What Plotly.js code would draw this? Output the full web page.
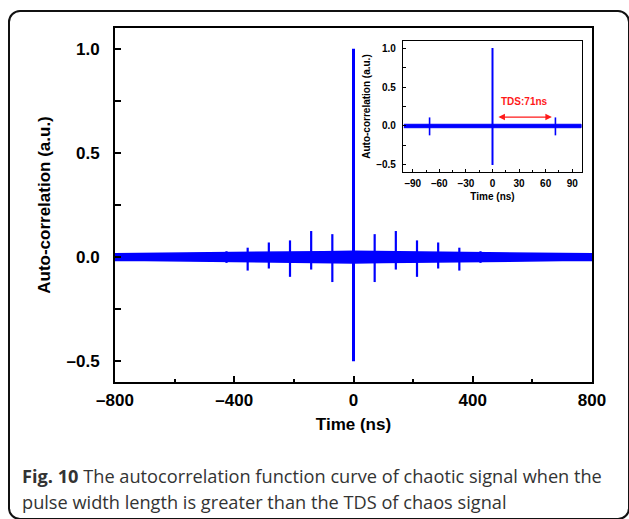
<!DOCTYPE html>
<html>
<head>
<meta charset="utf-8">
<script src="https://cdn.plot.ly/plotly-3.0.1.min.js"></script>
<style>
  html, body { margin: 0; padding: 0; background: #fff; }
  #wrap { position: relative; width: 629px; height: 519px; overflow: hidden; }
  #frame { position: absolute; left: 8px; top: 10px; width: 618px; height: 506px;
           border: 2px solid #111; border-radius: 12px; pointer-events: none; }
  #chart { position: absolute; left: 0; top: 0; width: 629px; height: 519px; }
</style>
</head>
<body>
<div id="wrap">
  <div id="chart"></div>
  <div id="frame"></div>
</div>
<script>
// ---- Main panel data ----
// noise band envelope
const mainEnvX     = [-800, -700, -600, -500, -400, -300, -200, -100, 0, 100, 200, 300, 400, 500, 600, 700, 800];
const mainEnvUpper = [0.016, 0.017, 0.018, 0.019, 0.021, 0.022, 0.024, 0.026, 0.028, 0.026, 0.024, 0.022, 0.021, 0.019, 0.018, 0.017, 0.016];
const mainEnvLower = [-0.016, -0.017, -0.018, -0.019, -0.021, -0.022, -0.024, -0.026, -0.028, -0.026, -0.024, -0.022, -0.021, -0.019, -0.018, -0.017, -0.016];
// correlation peaks at multiples of the TDS
const mainPeakX      = [-426, -355, -284, -213, -142, -71, 71, 142, 213, 284, 355, 426];
const mainPeakTop    = [0.028, 0.045, 0.070, 0.080, 0.125, 0.110, 0.110, 0.125, 0.080, 0.070, 0.045, 0.028];
const mainPeakBottom = [-0.028, -0.065, -0.055, -0.095, -0.060, -0.120, -0.120, -0.060, -0.095, -0.055, -0.065, -0.028];
const mainCenterX = [0];
const mainCenterTop = [1.0];
const mainCenterBottom = [-0.5];

// ---- Inset data ----
const insetEnvX     = [-100, -50, 0, 50, 100];
const insetEnvUpper = [0.022, 0.024, 0.026, 0.024, 0.022];
const insetEnvLower = [-0.022, -0.024, -0.026, -0.024, -0.022];
const insetPeakX      = [-71, 71];
const insetPeakTop    = [0.11, 0.11];
const insetPeakBottom = [-0.12, -0.12];
const insetCenterX = [0];
const insetCenterTop = [1.0];
const insetCenterBottom = [-0.5];
// TDS arrow
const tdsArrowStart = 5;
const tdsArrowEnd = 67;
const tdsArrowY = 0.115;
const tdsLabel = 'TDS:71ns';

// tick labels
const mainXTicks = [-800, -400, 0, 400, 800];
const mainYTicks = [-0.5, 0.0, 0.5, 1.0];
const insetXTicks = [-90, -60, -30, 0, 30, 60, 90];
const insetYTicks = [-0.5, 0.0, 0.5, 1.0];

const BLUE = '#0000ff';

function band(xs, up, lo, xa, ya, w) {
  return {
    x: xs.concat(xs.slice().reverse()),
    y: up.concat(lo.slice().reverse()),
    xaxis: xa, yaxis: ya,
    type: 'scatter', mode: 'lines', fill: 'toself',
    fillcolor: BLUE, line: {color: BLUE, width: w},
    hoverinfo: 'skip', showlegend: false
  };
}
function spikes(xs, top, bot, xa, ya, w) {
  const X = [], Y = [];
  xs.forEach((x, i) => { X.push(x, x, null); Y.push(bot[i], top[i], null); });
  return {
    x: X, y: Y, xaxis: xa, yaxis: ya,
    type: 'scatter', mode: 'lines',
    line: {color: BLUE, width: w},
    hoverinfo: 'skip', showlegend: false, connectgaps: false
  };
}

const traces = [
  band(mainEnvX, mainEnvUpper, mainEnvLower, 'x', 'y', 1.5),
  spikes(mainPeakX, mainPeakTop, mainPeakBottom, 'x', 'y', 2.2),
  spikes(mainCenterX, mainCenterTop, mainCenterBottom, 'x', 'y', 3),
  band(insetEnvX, insetEnvUpper, insetEnvLower, 'x2', 'y2', 1),
  spikes(insetPeakX, insetPeakTop, insetPeakBottom, 'x2', 'y2', 1.6),
  spikes(insetCenterX, insetCenterTop, insetCenterBottom, 'x2', 'y2', 2)
];

const boldFont = 'Liberation Sans, Arial, sans-serif';
const neg = (s) => s.replace('-', '\u2013');

const layout = {
  width: 629, height: 519,
  margin: {l: 0, r: 0, t: 0, b: 0},
  paper_bgcolor: 'rgba(0,0,0,0)', plot_bgcolor: 'rgba(0,0,0,0)',
  showlegend: false,
  xaxis: {
    domain: [115/629, 592/629], range: [-800, 800],
    tickvals: mainXTicks, ticktext: mainXTicks.map(v => '<b>' + neg(String(v)) + '</b>'),
    ticks: 'inside', ticklen: 6, tickwidth: 2, tickcolor: '#000',
    minor: {dtick: 200, ticks: 'inside', ticklen: 3, tickwidth: 2, tickcolor: '#000'},
    showline: true, linewidth: 2, linecolor: '#000', mirror: true,
    showgrid: false, zeroline: false, ticklabelstandoff: 2,
    tickfont: {family: boldFont, size: 17, color: '#000'},
    title: {text: '<b>Time (ns)</b>', font: {family: boldFont, size: 17, color: '#000'}, standoff: 9},
    fixedrange: true
  },
  yaxis: {
    domain: [1 - 382/519, 1 - 28/519], range: [-0.6, 1.1],
    tickvals: mainYTicks, ticktext: mainYTicks.map(v => '<b>' + neg(v.toFixed(1)) + '</b>'),
    ticks: 'inside', ticklen: 6, tickwidth: 2, tickcolor: '#000',
    minor: {dtick: 0.25, ticks: 'inside', ticklen: 6, tickwidth: 2, tickcolor: '#000'},
    showline: true, linewidth: 2, linecolor: '#000', mirror: true,
    showgrid: false, zeroline: false, ticklabelstandoff: 10,
    tickfont: {family: boldFont, size: 17, color: '#000'},
    title: {text: '<b>Auto-correlation (a.u.)</b>', font: {family: boldFont, size: 17, color: '#000'}, standoff: 12},
    fixedrange: true
  },
  xaxis2: {
    domain: [403/629, 582/629], range: [-101, 101], anchor: 'y2',
    tickvals: insetXTicks, ticktext: insetXTicks.map(v => '<b>' + neg(String(v)) + '</b>'),
    ticks: 'inside', ticklen: 3, tickwidth: 1, tickcolor: '#000',
    minor: {dtick: 15, ticks: 'inside', ticklen: 2, tickwidth: 1, tickcolor: '#000'},
    showline: true, linewidth: 1.2, linecolor: '#000', mirror: true,
    showgrid: false, zeroline: false, ticklabelstandoff: 2,
    tickfont: {family: boldFont, size: 10, color: '#000'},
    title: {text: '<b>Time (ns)</b>', font: {family: boldFont, size: 10, color: '#000'}, standoff: 4},
    fixedrange: true
  },
  yaxis2: {
    domain: [1 - 172/519, 1 - 41/519], range: [-0.59, 1.09], anchor: 'x2',
    tickvals: insetYTicks, ticktext: insetYTicks.map(v => '<b>' + neg(v.toFixed(1)) + '</b>'),
    ticks: 'inside', ticklen: 3, tickwidth: 1, tickcolor: '#000',
    minor: {dtick: 0.25, ticks: 'inside', ticklen: 3, tickwidth: 1, tickcolor: '#000'},
    showline: true, linewidth: 1.2, linecolor: '#000', mirror: true,
    showgrid: false, zeroline: false, ticklabelstandoff: 4,
    tickfont: {family: boldFont, size: 10, color: '#000'},
    title: {text: '<b>Auto-correlation (a.u.)</b>', font: {family: boldFont, size: 10, color: '#000'}, standoff: 3},
    fixedrange: true
  },
  annotations: [
    {xref: 'x2', yref: 'y2', x: tdsArrowEnd, y: tdsArrowY, ax: tdsArrowStart, ay: tdsArrowY,
     axref: 'x2', ayref: 'y2', text: '', showarrow: true, arrowhead: 2, arrowside: 'end+start',
     arrowsize: 1, arrowwidth: 1.3, arrowcolor: '#ff1a1a'},
    {xref: 'x2', yref: 'y2', x: (tdsArrowStart + tdsArrowEnd) / 2, y: 0.31, text: '<b>' + tdsLabel + '</b>',
     showarrow: false, font: {family: boldFont, size: 10, color: '#ff1a1a'}},
    {xref: 'paper', yref: 'paper', x: 20/629, y: 1 - 476/519, xanchor: 'left', yanchor: 'middle',
     text: '<b>Fig. 10</b> The autocorrelation function curve of chaotic signal when the',
     showarrow: false, font: {family: 'Open Sans, Noto Sans, sans-serif', size: 18.2, color: '#333'}},
    {xref: 'paper', yref: 'paper', x: 20/629, y: 1 - 502/519, xanchor: 'left', yanchor: 'middle',
     text: 'pulse width length is greater than the TDS of chaos signal',
     showarrow: false, font: {family: 'Open Sans, Noto Sans, sans-serif', size: 18.2, color: '#333'}}
  ]
};

Plotly.newPlot('chart', traces, layout, {displayModeBar: false, staticPlot: true});
</script>
</body>
</html>
